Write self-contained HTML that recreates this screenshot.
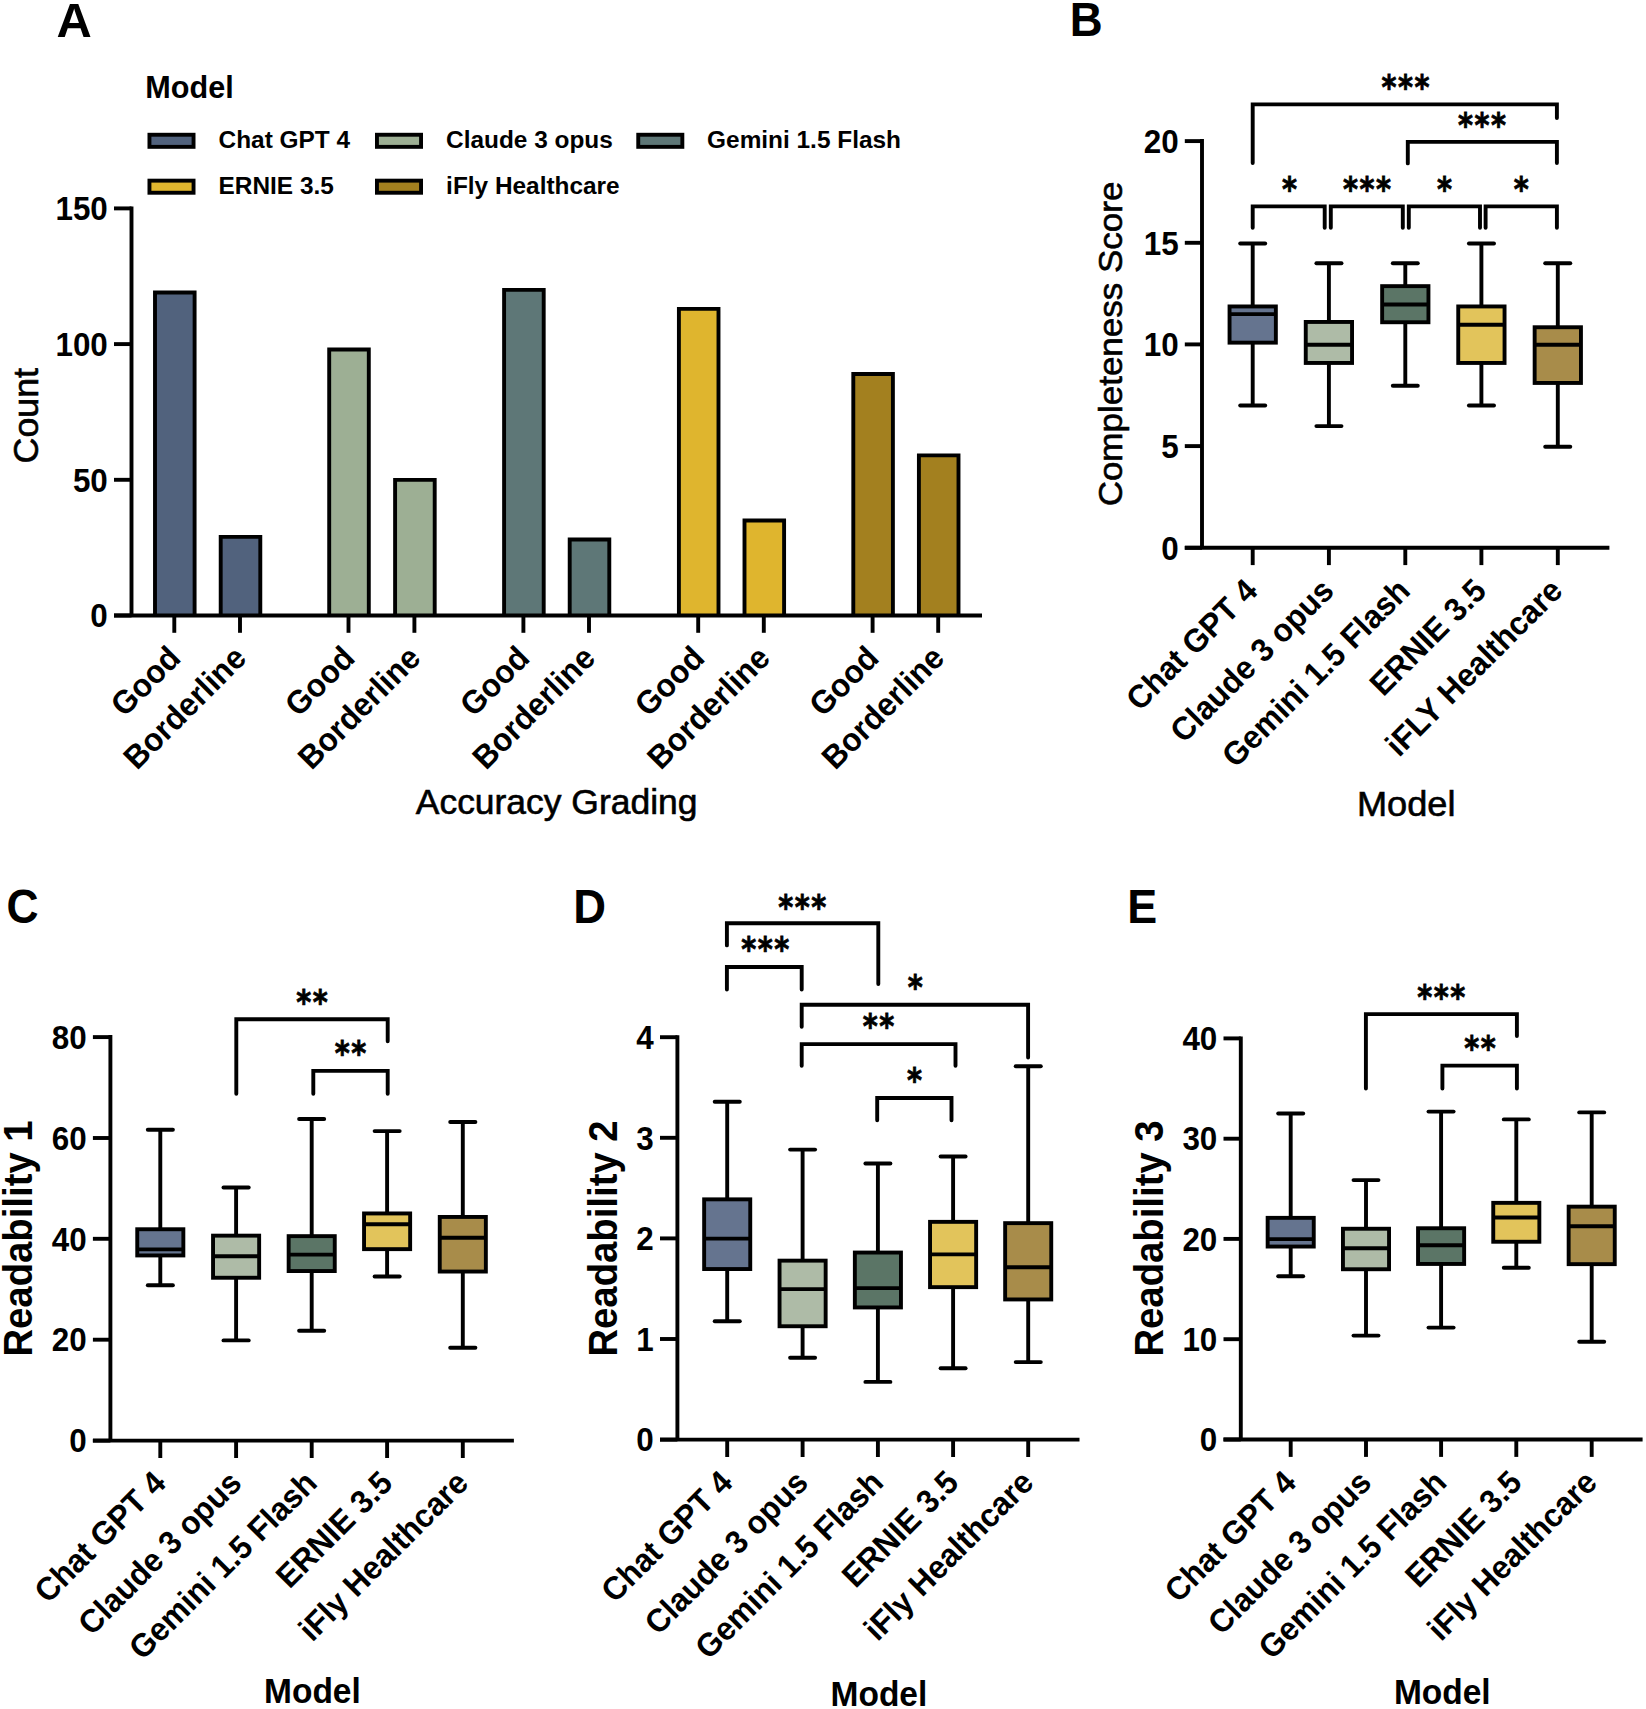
<!DOCTYPE html>
<html lang="en">
<head>
<meta charset="utf-8">
<title>Figure</title>
<style>html,body{margin:0;padding:0;background:#fff}svg{display:block}</style>
</head>
<body>
<svg width="1646" height="1709" viewBox="0 0 1646 1709" font-family='"Liberation Sans", sans-serif' fill="#000">
<rect width="1646" height="1709" fill="#fff"/>
<text transform="translate(56.40 37.00) scale(1.0180 1)" font-size="48.00" font-weight="bold" text-anchor="start">A</text>
<text transform="translate(1069.80 35.70) scale(0.9400 1)" font-size="48.50" font-weight="bold" text-anchor="start">B</text>
<text transform="translate(6.40 923.30) scale(0.9100 1)" font-size="48.80" font-weight="bold" text-anchor="start">C</text>
<text transform="translate(573.30 923.00) scale(0.9450 1)" font-size="48.00" font-weight="bold" text-anchor="start">D</text>
<text transform="translate(1127.30 923.00) scale(0.9350 1)" font-size="48.00" font-weight="bold" text-anchor="start">E</text>
<g id="panelA">
<text transform="translate(145.30 97.60) scale(1.0000 1)" font-size="30.60" font-weight="bold" text-anchor="start">Model</text>
<rect x="149.45" y="134.75" width="44.10" height="12.10" fill="#51627D" stroke="#000" stroke-width="3.9"/>
<text transform="translate(218.60 148.40) scale(1.0000 1)" font-size="24.40" font-weight="bold" text-anchor="start">Chat GPT 4</text>
<rect x="376.95" y="134.75" width="44.10" height="12.10" fill="#9DAF94" stroke="#000" stroke-width="3.9"/>
<text transform="translate(446.10 148.40) scale(1.0000 1)" font-size="24.40" font-weight="bold" text-anchor="start">Claude 3 opus</text>
<rect x="638.25" y="134.75" width="44.10" height="12.10" fill="#5E7777" stroke="#000" stroke-width="3.9"/>
<text transform="translate(707.10 148.40) scale(1.0000 1)" font-size="24.40" font-weight="bold" text-anchor="start">Gemini 1.5 Flash</text>
<rect x="149.45" y="180.65" width="44.10" height="12.10" fill="#DFB52E" stroke="#000" stroke-width="3.9"/>
<text transform="translate(218.60 194.30) scale(1.0000 1)" font-size="24.40" font-weight="bold" text-anchor="start">ERNIE 3.5</text>
<rect x="376.95" y="180.65" width="44.10" height="12.10" fill="#A3801F" stroke="#000" stroke-width="3.9"/>
<text transform="translate(446.10 194.30) scale(1.0000 1)" font-size="24.40" font-weight="bold" text-anchor="start">iFly Healthcare</text>
<rect x="155.00" y="292.57" width="39.60" height="322.93" fill="#51627D"/>
<path d="M155.00 615.50 L155.00 292.57 L194.60 292.57 L194.60 615.50" fill="none" stroke="#000" stroke-width="3.9" stroke-linejoin="miter"/>
<rect x="220.70" y="536.83" width="39.60" height="78.67" fill="#51627D"/>
<path d="M220.70 615.50 L220.70 536.83 L260.30 536.83 L260.30 615.50" fill="none" stroke="#000" stroke-width="3.9" stroke-linejoin="miter"/>
<rect x="329.20" y="349.56" width="39.60" height="265.94" fill="#9DAF94"/>
<path d="M329.20 615.50 L329.20 349.56 L368.80 349.56 L368.80 615.50" fill="none" stroke="#000" stroke-width="3.9" stroke-linejoin="miter"/>
<rect x="395.10" y="479.84" width="39.60" height="135.66" fill="#9DAF94"/>
<path d="M395.10 615.50 L395.10 479.84 L434.70 479.84 L434.70 615.50" fill="none" stroke="#000" stroke-width="3.9" stroke-linejoin="miter"/>
<rect x="504.10" y="289.86" width="39.60" height="325.64" fill="#5E7777"/>
<path d="M504.10 615.50 L504.10 289.86 L543.70 289.86 L543.70 615.50" fill="none" stroke="#000" stroke-width="3.9" stroke-linejoin="miter"/>
<rect x="569.70" y="539.54" width="39.60" height="75.96" fill="#5E7777"/>
<path d="M569.70 615.50 L569.70 539.54 L609.30 539.54 L609.30 615.50" fill="none" stroke="#000" stroke-width="3.9" stroke-linejoin="miter"/>
<rect x="678.90" y="308.85" width="39.60" height="306.65" fill="#DFB52E"/>
<path d="M678.90 615.50 L678.90 308.85 L718.50 308.85 L718.50 615.50" fill="none" stroke="#000" stroke-width="3.9" stroke-linejoin="miter"/>
<rect x="744.50" y="520.55" width="39.60" height="94.95" fill="#DFB52E"/>
<path d="M744.50 615.50 L744.50 520.55 L784.10 520.55 L784.10 615.50" fill="none" stroke="#000" stroke-width="3.9" stroke-linejoin="miter"/>
<rect x="853.30" y="373.99" width="39.60" height="241.51" fill="#A3801F"/>
<path d="M853.30 615.50 L853.30 373.99 L892.90 373.99 L892.90 615.50" fill="none" stroke="#000" stroke-width="3.9" stroke-linejoin="miter"/>
<rect x="918.90" y="455.41" width="39.60" height="160.09" fill="#A3801F"/>
<path d="M918.90 615.50 L918.90 455.41 L958.50 455.41 L958.50 615.50" fill="none" stroke="#000" stroke-width="3.9" stroke-linejoin="miter"/>
<line x1="131.5" y1="206.4" x2="131.5" y2="615.5" stroke="#000" stroke-width="3.9" stroke-linecap="butt"/>
<line x1="114.0" y1="615.5" x2="982.0" y2="615.5" stroke="#000" stroke-width="3.9" stroke-linecap="butt"/>
<line x1="114.0" y1="615.5" x2="131.5" y2="615.5" stroke="#000" stroke-width="3.9" stroke-linecap="butt"/>
<text transform="translate(107.80 627.24) scale(0.9615 1)" font-size="32.66" font-weight="bold" text-anchor="end">0</text>
<line x1="114.0" y1="479.8" x2="131.5" y2="479.8" stroke="#000" stroke-width="3.9" stroke-linecap="butt"/>
<text transform="translate(107.80 491.54) scale(0.9615 1)" font-size="32.66" font-weight="bold" text-anchor="end">50</text>
<line x1="114.0" y1="344.1" x2="131.5" y2="344.1" stroke="#000" stroke-width="3.9" stroke-linecap="butt"/>
<text transform="translate(107.80 355.84) scale(0.9615 1)" font-size="32.66" font-weight="bold" text-anchor="end">100</text>
<line x1="114.0" y1="208.4" x2="131.5" y2="208.4" stroke="#000" stroke-width="3.9" stroke-linecap="butt"/>
<text transform="translate(107.80 220.14) scale(0.9615 1)" font-size="32.66" font-weight="bold" text-anchor="end">150</text>
<line x1="174.3" y1="615.5" x2="174.3" y2="632.8" stroke="#000" stroke-width="3.9" stroke-linecap="butt"/>
<line x1="240.0" y1="615.5" x2="240.0" y2="632.8" stroke="#000" stroke-width="3.9" stroke-linecap="butt"/>
<line x1="348.5" y1="615.5" x2="348.5" y2="632.8" stroke="#000" stroke-width="3.9" stroke-linecap="butt"/>
<line x1="414.4" y1="615.5" x2="414.4" y2="632.8" stroke="#000" stroke-width="3.9" stroke-linecap="butt"/>
<line x1="523.4" y1="615.5" x2="523.4" y2="632.8" stroke="#000" stroke-width="3.9" stroke-linecap="butt"/>
<line x1="589.0" y1="615.5" x2="589.0" y2="632.8" stroke="#000" stroke-width="3.9" stroke-linecap="butt"/>
<line x1="698.2" y1="615.5" x2="698.2" y2="632.8" stroke="#000" stroke-width="3.9" stroke-linecap="butt"/>
<line x1="763.8" y1="615.5" x2="763.8" y2="632.8" stroke="#000" stroke-width="3.9" stroke-linecap="butt"/>
<line x1="872.6" y1="615.5" x2="872.6" y2="632.8" stroke="#000" stroke-width="3.9" stroke-linecap="butt"/>
<line x1="938.2" y1="615.5" x2="938.2" y2="632.8" stroke="#000" stroke-width="3.9" stroke-linecap="butt"/>
<text transform="translate(182.30 660.00) rotate(-45) scale(0.9615 1)" font-size="32.66" font-weight="bold" text-anchor="end">Good</text>
<text transform="translate(248.00 660.00) rotate(-45) scale(0.9615 1)" font-size="32.66" font-weight="bold" text-anchor="end">Borderline</text>
<text transform="translate(356.50 660.00) rotate(-45) scale(0.9615 1)" font-size="32.66" font-weight="bold" text-anchor="end">Good</text>
<text transform="translate(422.40 660.00) rotate(-45) scale(0.9615 1)" font-size="32.66" font-weight="bold" text-anchor="end">Borderline</text>
<text transform="translate(531.40 660.00) rotate(-45) scale(0.9615 1)" font-size="32.66" font-weight="bold" text-anchor="end">Good</text>
<text transform="translate(597.00 660.00) rotate(-45) scale(0.9615 1)" font-size="32.66" font-weight="bold" text-anchor="end">Borderline</text>
<text transform="translate(706.20 660.00) rotate(-45) scale(0.9615 1)" font-size="32.66" font-weight="bold" text-anchor="end">Good</text>
<text transform="translate(771.80 660.00) rotate(-45) scale(0.9615 1)" font-size="32.66" font-weight="bold" text-anchor="end">Borderline</text>
<text transform="translate(880.60 660.00) rotate(-45) scale(0.9615 1)" font-size="32.66" font-weight="bold" text-anchor="end">Good</text>
<text transform="translate(946.20 660.00) rotate(-45) scale(0.9615 1)" font-size="32.66" font-weight="bold" text-anchor="end">Borderline</text>
<text transform="translate(37.90 415.70) rotate(-90) scale(1.0256 1)" font-size="34.90" font-weight="normal" text-anchor="middle" stroke="#000" stroke-width="0.6">Count</text>
<text transform="translate(556.60 813.60) scale(1.0256 1)" font-size="34.56" font-weight="normal" text-anchor="middle" stroke="#000" stroke-width="0.6">Accuracy Grading</text>
</g>
<g id="panelB">
<line x1="1202.0" y1="139.1" x2="1202.0" y2="547.8" stroke="#000" stroke-width="3.9" stroke-linecap="butt"/>
<line x1="1184.8" y1="547.8" x2="1609.4" y2="547.8" stroke="#000" stroke-width="3.9" stroke-linecap="butt"/>
<line x1="1184.8" y1="547.8" x2="1202.0" y2="547.8" stroke="#000" stroke-width="3.9" stroke-linecap="butt"/>
<text transform="translate(1178.60 559.54) scale(0.9615 1)" font-size="32.66" font-weight="bold" text-anchor="end">0</text>
<line x1="1184.8" y1="446.1" x2="1202.0" y2="446.1" stroke="#000" stroke-width="3.9" stroke-linecap="butt"/>
<text transform="translate(1178.60 457.87) scale(0.9615 1)" font-size="32.66" font-weight="bold" text-anchor="end">5</text>
<line x1="1184.8" y1="344.4" x2="1202.0" y2="344.4" stroke="#000" stroke-width="3.9" stroke-linecap="butt"/>
<text transform="translate(1178.60 356.19) scale(0.9615 1)" font-size="32.66" font-weight="bold" text-anchor="end">10</text>
<line x1="1184.8" y1="242.8" x2="1202.0" y2="242.8" stroke="#000" stroke-width="3.9" stroke-linecap="butt"/>
<text transform="translate(1178.60 254.52) scale(0.9615 1)" font-size="32.66" font-weight="bold" text-anchor="end">15</text>
<line x1="1184.8" y1="141.1" x2="1202.0" y2="141.1" stroke="#000" stroke-width="3.9" stroke-linecap="butt"/>
<text transform="translate(1178.60 152.84) scale(0.9615 1)" font-size="32.66" font-weight="bold" text-anchor="end">20</text>
<line x1="1252.7" y1="547.8" x2="1252.7" y2="565.1" stroke="#000" stroke-width="3.9" stroke-linecap="butt"/>
<line x1="1328.9" y1="547.8" x2="1328.9" y2="565.1" stroke="#000" stroke-width="3.9" stroke-linecap="butt"/>
<line x1="1405.3" y1="547.8" x2="1405.3" y2="565.1" stroke="#000" stroke-width="3.9" stroke-linecap="butt"/>
<line x1="1481.4" y1="547.8" x2="1481.4" y2="565.1" stroke="#000" stroke-width="3.9" stroke-linecap="butt"/>
<line x1="1557.8" y1="547.8" x2="1557.8" y2="565.1" stroke="#000" stroke-width="3.9" stroke-linecap="butt"/>
<line x1="1252.7" y1="243.5" x2="1252.7" y2="305.5" stroke="#000" stroke-width="3.9" stroke-linecap="butt"/>
<line x1="1252.7" y1="343.6" x2="1252.7" y2="405.5" stroke="#000" stroke-width="3.9" stroke-linecap="butt"/>
<line x1="1240.2" y1="243.5" x2="1265.2" y2="243.5" stroke="#000" stroke-width="3.9" stroke-linecap="round"/>
<line x1="1240.2" y1="405.5" x2="1265.2" y2="405.5" stroke="#000" stroke-width="3.9" stroke-linecap="round"/>
<rect x="1229.55" y="306.45" width="46.30" height="36.20" fill="#65748F" stroke="#000" stroke-width="3.9"/>
<line x1="1228.6" y1="314.1" x2="1276.8" y2="314.1" stroke="#000" stroke-width="3.9" stroke-linecap="butt"/>
<line x1="1328.9" y1="263.3" x2="1328.9" y2="321.0" stroke="#000" stroke-width="3.9" stroke-linecap="butt"/>
<line x1="1328.9" y1="363.9" x2="1328.9" y2="426.1" stroke="#000" stroke-width="3.9" stroke-linecap="butt"/>
<line x1="1316.4" y1="263.3" x2="1341.5" y2="263.3" stroke="#000" stroke-width="3.9" stroke-linecap="round"/>
<line x1="1316.4" y1="426.1" x2="1341.5" y2="426.1" stroke="#000" stroke-width="3.9" stroke-linecap="round"/>
<rect x="1305.75" y="321.95" width="46.30" height="41.00" fill="#AEBBA7" stroke="#000" stroke-width="3.9"/>
<line x1="1304.8" y1="344.8" x2="1353.0" y2="344.8" stroke="#000" stroke-width="3.9" stroke-linecap="butt"/>
<line x1="1405.3" y1="263.3" x2="1405.3" y2="285.2" stroke="#000" stroke-width="3.9" stroke-linecap="butt"/>
<line x1="1405.3" y1="323.2" x2="1405.3" y2="385.7" stroke="#000" stroke-width="3.9" stroke-linecap="butt"/>
<line x1="1392.8" y1="263.3" x2="1417.8" y2="263.3" stroke="#000" stroke-width="3.9" stroke-linecap="round"/>
<line x1="1392.8" y1="385.7" x2="1417.8" y2="385.7" stroke="#000" stroke-width="3.9" stroke-linecap="round"/>
<rect x="1382.15" y="286.15" width="46.30" height="36.10" fill="#5B7566" stroke="#000" stroke-width="3.9"/>
<line x1="1381.2" y1="304.5" x2="1429.4" y2="304.5" stroke="#000" stroke-width="3.9" stroke-linecap="butt"/>
<line x1="1481.4" y1="243.5" x2="1481.4" y2="305.5" stroke="#000" stroke-width="3.9" stroke-linecap="butt"/>
<line x1="1481.4" y1="363.9" x2="1481.4" y2="405.5" stroke="#000" stroke-width="3.9" stroke-linecap="butt"/>
<line x1="1468.9" y1="243.5" x2="1494.0" y2="243.5" stroke="#000" stroke-width="3.9" stroke-linecap="round"/>
<line x1="1468.9" y1="405.5" x2="1494.0" y2="405.5" stroke="#000" stroke-width="3.9" stroke-linecap="round"/>
<rect x="1458.25" y="306.45" width="46.30" height="56.50" fill="#E2C45B" stroke="#000" stroke-width="3.9"/>
<line x1="1457.3" y1="324.8" x2="1505.5" y2="324.8" stroke="#000" stroke-width="3.9" stroke-linecap="butt"/>
<line x1="1557.8" y1="263.3" x2="1557.8" y2="326.3" stroke="#000" stroke-width="3.9" stroke-linecap="butt"/>
<line x1="1557.8" y1="383.9" x2="1557.8" y2="446.7" stroke="#000" stroke-width="3.9" stroke-linecap="butt"/>
<line x1="1545.2" y1="263.3" x2="1570.3" y2="263.3" stroke="#000" stroke-width="3.9" stroke-linecap="round"/>
<line x1="1545.2" y1="446.7" x2="1570.3" y2="446.7" stroke="#000" stroke-width="3.9" stroke-linecap="round"/>
<rect x="1534.65" y="327.25" width="46.30" height="55.70" fill="#A88C4A" stroke="#000" stroke-width="3.9"/>
<line x1="1533.7" y1="344.8" x2="1581.9" y2="344.8" stroke="#000" stroke-width="3.9" stroke-linecap="butt"/>
<path d="M1252.7 163.0 L1252.7 104.4 L1556.9 104.4 L1556.9 118.1" fill="none" stroke="#000" stroke-width="3.9" stroke-linecap="round" stroke-linejoin="miter"/>
<path d="M1407.8 163.4 L1407.8 141.9 L1556.9 141.9 L1556.9 163.0" fill="none" stroke="#000" stroke-width="3.9" stroke-linecap="round" stroke-linejoin="miter"/>
<path d="M1252.7 227.8 L1252.7 206.4 L1324.7 206.4 L1324.7 227.8" fill="none" stroke="#000" stroke-width="3.9" stroke-linecap="round" stroke-linejoin="miter"/>
<path d="M1330.8 227.8 L1330.8 206.4 L1402.8 206.4 L1402.8 227.8" fill="none" stroke="#000" stroke-width="3.9" stroke-linecap="round" stroke-linejoin="miter"/>
<path d="M1408.8 227.8 L1408.8 206.4 L1480.0 206.4 L1480.0 227.8" fill="none" stroke="#000" stroke-width="3.9" stroke-linecap="round" stroke-linejoin="miter"/>
<path d="M1485.6 227.8 L1485.6 206.4 L1556.9 206.4 L1556.9 227.8" fill="none" stroke="#000" stroke-width="3.9" stroke-linecap="round" stroke-linejoin="miter"/>
<text transform="translate(1406.15 99.03) scale(0.87 1)" font-family="DejaVu Sans, Liberation Sans, sans-serif" font-size="33" font-weight="bold" text-anchor="middle" letter-spacing="1.72" stroke="#000" stroke-width="0.8" stroke-linejoin="miter">***</text>
<text transform="translate(1482.65 136.83) scale(0.87 1)" font-family="DejaVu Sans, Liberation Sans, sans-serif" font-size="33" font-weight="bold" text-anchor="middle" letter-spacing="1.72" stroke="#000" stroke-width="0.8" stroke-linejoin="miter">***</text>
<text transform="translate(1290.25 200.63) scale(0.87 1)" font-family="DejaVu Sans, Liberation Sans, sans-serif" font-size="33" font-weight="bold" text-anchor="middle" letter-spacing="1.72" stroke="#000" stroke-width="0.8" stroke-linejoin="miter">*</text>
<text transform="translate(1367.75 200.63) scale(0.87 1)" font-family="DejaVu Sans, Liberation Sans, sans-serif" font-size="33" font-weight="bold" text-anchor="middle" letter-spacing="1.72" stroke="#000" stroke-width="0.8" stroke-linejoin="miter">***</text>
<text transform="translate(1445.25 200.63) scale(0.87 1)" font-family="DejaVu Sans, Liberation Sans, sans-serif" font-size="33" font-weight="bold" text-anchor="middle" letter-spacing="1.72" stroke="#000" stroke-width="0.8" stroke-linejoin="miter">*</text>
<text transform="translate(1522.05 200.63) scale(0.87 1)" font-family="DejaVu Sans, Liberation Sans, sans-serif" font-size="33" font-weight="bold" text-anchor="middle" letter-spacing="1.72" stroke="#000" stroke-width="0.8" stroke-linejoin="miter">*</text>
<text transform="translate(1259.30 592.60) rotate(-45) scale(0.9615 1)" font-size="32.66" font-weight="bold" text-anchor="end">Chat GPT 4</text>
<text transform="translate(1335.50 592.60) rotate(-45) scale(0.9615 1)" font-size="32.66" font-weight="bold" text-anchor="end">Claude 3 opus</text>
<text transform="translate(1411.90 592.60) rotate(-45) scale(0.9615 1)" font-size="32.66" font-weight="bold" text-anchor="end">Gemini 1.5 Flash</text>
<text transform="translate(1488.00 592.60) rotate(-45) scale(0.9615 1)" font-size="32.66" font-weight="bold" text-anchor="end">ERNIE 3.5</text>
<text transform="translate(1564.40 592.60) rotate(-45) scale(0.9615 1)" font-size="32.66" font-weight="bold" text-anchor="end">iFLY Healthcare</text>
<text transform="translate(1121.60 344.00) rotate(-90) scale(1.0256 1)" font-size="34.12" font-weight="normal" text-anchor="middle" stroke="#000" stroke-width="0.6">Completeness Score</text>
<text transform="translate(1406.20 815.70) scale(1.0256 1)" font-size="35.30" font-weight="normal" text-anchor="middle" stroke="#000" stroke-width="0.6">Model</text>
</g>
<g id="panelC">
<line x1="110.4" y1="1035.1" x2="110.4" y2="1440.6" stroke="#000" stroke-width="3.9" stroke-linecap="butt"/>
<line x1="92.9" y1="1440.6" x2="513.9" y2="1440.6" stroke="#000" stroke-width="3.9" stroke-linecap="butt"/>
<line x1="92.9" y1="1440.6" x2="110.4" y2="1440.6" stroke="#000" stroke-width="3.9" stroke-linecap="butt"/>
<text transform="translate(86.70 1452.34) scale(0.9615 1)" font-size="32.66" font-weight="bold" text-anchor="end">0</text>
<line x1="92.9" y1="1339.7" x2="110.4" y2="1339.7" stroke="#000" stroke-width="3.9" stroke-linecap="butt"/>
<text transform="translate(86.70 1351.47) scale(0.9615 1)" font-size="32.66" font-weight="bold" text-anchor="end">20</text>
<line x1="92.9" y1="1238.8" x2="110.4" y2="1238.8" stroke="#000" stroke-width="3.9" stroke-linecap="butt"/>
<text transform="translate(86.70 1250.59) scale(0.9615 1)" font-size="32.66" font-weight="bold" text-anchor="end">40</text>
<line x1="92.9" y1="1138.0" x2="110.4" y2="1138.0" stroke="#000" stroke-width="3.9" stroke-linecap="butt"/>
<text transform="translate(86.70 1149.72) scale(0.9615 1)" font-size="32.66" font-weight="bold" text-anchor="end">60</text>
<line x1="92.9" y1="1037.1" x2="110.4" y2="1037.1" stroke="#000" stroke-width="3.9" stroke-linecap="butt"/>
<text transform="translate(86.70 1048.84) scale(0.9615 1)" font-size="32.66" font-weight="bold" text-anchor="end">80</text>
<line x1="160.3" y1="1440.6" x2="160.3" y2="1458.0" stroke="#000" stroke-width="3.9" stroke-linecap="butt"/>
<line x1="236.1" y1="1440.6" x2="236.1" y2="1458.0" stroke="#000" stroke-width="3.9" stroke-linecap="butt"/>
<line x1="311.7" y1="1440.6" x2="311.7" y2="1458.0" stroke="#000" stroke-width="3.9" stroke-linecap="butt"/>
<line x1="387.1" y1="1440.6" x2="387.1" y2="1458.0" stroke="#000" stroke-width="3.9" stroke-linecap="butt"/>
<line x1="462.8" y1="1440.6" x2="462.8" y2="1458.0" stroke="#000" stroke-width="3.9" stroke-linecap="butt"/>
<line x1="160.3" y1="1129.7" x2="160.3" y2="1228.3" stroke="#000" stroke-width="3.9" stroke-linecap="butt"/>
<line x1="160.3" y1="1256.4" x2="160.3" y2="1285.3" stroke="#000" stroke-width="3.9" stroke-linecap="butt"/>
<line x1="147.8" y1="1129.7" x2="172.9" y2="1129.7" stroke="#000" stroke-width="3.9" stroke-linecap="round"/>
<line x1="147.8" y1="1285.3" x2="172.9" y2="1285.3" stroke="#000" stroke-width="3.9" stroke-linecap="round"/>
<rect x="137.25" y="1229.25" width="46.10" height="26.20" fill="#65748F" stroke="#000" stroke-width="3.9"/>
<line x1="136.3" y1="1249.4" x2="184.3" y2="1249.4" stroke="#000" stroke-width="3.9" stroke-linecap="butt"/>
<line x1="236.1" y1="1187.5" x2="236.1" y2="1234.7" stroke="#000" stroke-width="3.9" stroke-linecap="butt"/>
<line x1="236.1" y1="1278.7" x2="236.1" y2="1340.4" stroke="#000" stroke-width="3.9" stroke-linecap="butt"/>
<line x1="223.5" y1="1187.5" x2="248.7" y2="1187.5" stroke="#000" stroke-width="3.9" stroke-linecap="round"/>
<line x1="223.5" y1="1340.4" x2="248.7" y2="1340.4" stroke="#000" stroke-width="3.9" stroke-linecap="round"/>
<rect x="213.05" y="1235.65" width="46.10" height="42.10" fill="#AEBBA7" stroke="#000" stroke-width="3.9"/>
<line x1="212.1" y1="1256.2" x2="260.1" y2="1256.2" stroke="#000" stroke-width="3.9" stroke-linecap="butt"/>
<line x1="311.7" y1="1119.0" x2="311.7" y2="1235.2" stroke="#000" stroke-width="3.9" stroke-linecap="butt"/>
<line x1="311.7" y1="1272.0" x2="311.7" y2="1330.7" stroke="#000" stroke-width="3.9" stroke-linecap="butt"/>
<line x1="299.1" y1="1119.0" x2="324.2" y2="1119.0" stroke="#000" stroke-width="3.9" stroke-linecap="round"/>
<line x1="299.1" y1="1330.7" x2="324.2" y2="1330.7" stroke="#000" stroke-width="3.9" stroke-linecap="round"/>
<rect x="288.65" y="1236.15" width="46.10" height="34.90" fill="#5B7566" stroke="#000" stroke-width="3.9"/>
<line x1="287.7" y1="1254.6" x2="335.7" y2="1254.6" stroke="#000" stroke-width="3.9" stroke-linecap="butt"/>
<line x1="387.1" y1="1131.1" x2="387.1" y2="1212.5" stroke="#000" stroke-width="3.9" stroke-linecap="butt"/>
<line x1="387.1" y1="1250.1" x2="387.1" y2="1276.5" stroke="#000" stroke-width="3.9" stroke-linecap="butt"/>
<line x1="374.6" y1="1131.1" x2="399.7" y2="1131.1" stroke="#000" stroke-width="3.9" stroke-linecap="round"/>
<line x1="374.6" y1="1276.5" x2="399.7" y2="1276.5" stroke="#000" stroke-width="3.9" stroke-linecap="round"/>
<rect x="364.05" y="1213.45" width="46.10" height="35.70" fill="#E2C45B" stroke="#000" stroke-width="3.9"/>
<line x1="363.1" y1="1224.3" x2="411.1" y2="1224.3" stroke="#000" stroke-width="3.9" stroke-linecap="butt"/>
<line x1="462.8" y1="1122.0" x2="462.8" y2="1216.0" stroke="#000" stroke-width="3.9" stroke-linecap="butt"/>
<line x1="462.8" y1="1272.5" x2="462.8" y2="1347.8" stroke="#000" stroke-width="3.9" stroke-linecap="butt"/>
<line x1="450.2" y1="1122.0" x2="475.4" y2="1122.0" stroke="#000" stroke-width="3.9" stroke-linecap="round"/>
<line x1="450.2" y1="1347.8" x2="475.4" y2="1347.8" stroke="#000" stroke-width="3.9" stroke-linecap="round"/>
<rect x="439.75" y="1216.95" width="46.10" height="54.60" fill="#A88C4A" stroke="#000" stroke-width="3.9"/>
<line x1="438.8" y1="1237.7" x2="486.8" y2="1237.7" stroke="#000" stroke-width="3.9" stroke-linecap="butt"/>
<text transform="translate(167.50 1485.00) rotate(-45) scale(0.9615 1)" font-size="32.66" font-weight="bold" text-anchor="end">Chat GPT 4</text>
<text transform="translate(243.30 1485.00) rotate(-45) scale(0.9615 1)" font-size="32.66" font-weight="bold" text-anchor="end">Claude 3 opus</text>
<text transform="translate(318.90 1485.00) rotate(-45) scale(0.9615 1)" font-size="32.66" font-weight="bold" text-anchor="end">Gemini 1.5 Flash</text>
<text transform="translate(394.30 1485.00) rotate(-45) scale(0.9615 1)" font-size="32.66" font-weight="bold" text-anchor="end">ERNIE 3.5</text>
<text transform="translate(470.00 1485.00) rotate(-45) scale(0.9615 1)" font-size="32.66" font-weight="bold" text-anchor="end">iFly Healthcare</text>
<text transform="translate(32.00 1238.50) rotate(-90) scale(0.9479 1)" font-size="40.41" font-weight="bold" text-anchor="middle">Readability 1</text>
<text transform="translate(312.40 1703.40) scale(0.9615 1)" font-size="34.84" font-weight="bold" text-anchor="middle">Model</text>
</g>
<path d="M236.3 1093.8 L236.3 1019.3 L387.7 1019.3 L387.7 1041.3" fill="none" stroke="#000" stroke-width="3.9" stroke-linecap="round" stroke-linejoin="miter"/>
<path d="M313.3 1093.8 L313.3 1070.9 L387.7 1070.9 L387.7 1093.8" fill="none" stroke="#000" stroke-width="3.9" stroke-linecap="round" stroke-linejoin="miter"/>
<text transform="translate(312.85 1013.53) scale(0.87 1)" font-family="DejaVu Sans, Liberation Sans, sans-serif" font-size="33" font-weight="bold" text-anchor="middle" letter-spacing="1.72" stroke="#000" stroke-width="0.8" stroke-linejoin="miter">**</text>
<text transform="translate(351.35 1065.33) scale(0.87 1)" font-family="DejaVu Sans, Liberation Sans, sans-serif" font-size="33" font-weight="bold" text-anchor="middle" letter-spacing="1.72" stroke="#000" stroke-width="0.8" stroke-linejoin="miter">**</text>
<g id="panelD">
<line x1="677.4" y1="1035.2" x2="677.4" y2="1439.6" stroke="#000" stroke-width="3.9" stroke-linecap="butt"/>
<line x1="660.0" y1="1439.6" x2="1079.5" y2="1439.6" stroke="#000" stroke-width="3.9" stroke-linecap="butt"/>
<line x1="660.0" y1="1439.6" x2="677.4" y2="1439.6" stroke="#000" stroke-width="3.9" stroke-linecap="butt"/>
<text transform="translate(653.80 1451.34) scale(0.9615 1)" font-size="32.66" font-weight="bold" text-anchor="end">0</text>
<line x1="660.0" y1="1339.0" x2="677.4" y2="1339.0" stroke="#000" stroke-width="3.9" stroke-linecap="butt"/>
<text transform="translate(653.80 1350.74) scale(0.9615 1)" font-size="32.66" font-weight="bold" text-anchor="end">1</text>
<line x1="660.0" y1="1238.4" x2="677.4" y2="1238.4" stroke="#000" stroke-width="3.9" stroke-linecap="butt"/>
<text transform="translate(653.80 1250.14) scale(0.9615 1)" font-size="32.66" font-weight="bold" text-anchor="end">2</text>
<line x1="660.0" y1="1137.8" x2="677.4" y2="1137.8" stroke="#000" stroke-width="3.9" stroke-linecap="butt"/>
<text transform="translate(653.80 1149.54) scale(0.9615 1)" font-size="32.66" font-weight="bold" text-anchor="end">3</text>
<line x1="660.0" y1="1037.2" x2="677.4" y2="1037.2" stroke="#000" stroke-width="3.9" stroke-linecap="butt"/>
<text transform="translate(653.80 1048.94) scale(0.9615 1)" font-size="32.66" font-weight="bold" text-anchor="end">4</text>
<line x1="727.2" y1="1439.6" x2="727.2" y2="1457.0" stroke="#000" stroke-width="3.9" stroke-linecap="butt"/>
<line x1="802.6" y1="1439.6" x2="802.6" y2="1457.0" stroke="#000" stroke-width="3.9" stroke-linecap="butt"/>
<line x1="877.9" y1="1439.6" x2="877.9" y2="1457.0" stroke="#000" stroke-width="3.9" stroke-linecap="butt"/>
<line x1="953.1" y1="1439.6" x2="953.1" y2="1457.0" stroke="#000" stroke-width="3.9" stroke-linecap="butt"/>
<line x1="1028.2" y1="1439.6" x2="1028.2" y2="1457.0" stroke="#000" stroke-width="3.9" stroke-linecap="butt"/>
<line x1="727.2" y1="1101.7" x2="727.2" y2="1198.4" stroke="#000" stroke-width="3.9" stroke-linecap="butt"/>
<line x1="727.2" y1="1270.0" x2="727.2" y2="1321.2" stroke="#000" stroke-width="3.9" stroke-linecap="butt"/>
<line x1="714.7" y1="1101.7" x2="739.8" y2="1101.7" stroke="#000" stroke-width="3.9" stroke-linecap="round"/>
<line x1="714.7" y1="1321.2" x2="739.8" y2="1321.2" stroke="#000" stroke-width="3.9" stroke-linecap="round"/>
<rect x="704.15" y="1199.35" width="46.10" height="69.70" fill="#65748F" stroke="#000" stroke-width="3.9"/>
<line x1="703.2" y1="1238.6" x2="751.2" y2="1238.6" stroke="#000" stroke-width="3.9" stroke-linecap="butt"/>
<line x1="802.6" y1="1149.6" x2="802.6" y2="1259.7" stroke="#000" stroke-width="3.9" stroke-linecap="butt"/>
<line x1="802.6" y1="1327.2" x2="802.6" y2="1357.8" stroke="#000" stroke-width="3.9" stroke-linecap="butt"/>
<line x1="790.1" y1="1149.6" x2="815.1" y2="1149.6" stroke="#000" stroke-width="3.9" stroke-linecap="round"/>
<line x1="790.1" y1="1357.8" x2="815.1" y2="1357.8" stroke="#000" stroke-width="3.9" stroke-linecap="round"/>
<rect x="779.55" y="1260.65" width="46.10" height="65.60" fill="#AEBBA7" stroke="#000" stroke-width="3.9"/>
<line x1="778.6" y1="1289.1" x2="826.6" y2="1289.1" stroke="#000" stroke-width="3.9" stroke-linecap="butt"/>
<line x1="877.9" y1="1163.5" x2="877.9" y2="1251.6" stroke="#000" stroke-width="3.9" stroke-linecap="butt"/>
<line x1="877.9" y1="1308.4" x2="877.9" y2="1381.9" stroke="#000" stroke-width="3.9" stroke-linecap="butt"/>
<line x1="865.4" y1="1163.5" x2="890.4" y2="1163.5" stroke="#000" stroke-width="3.9" stroke-linecap="round"/>
<line x1="865.4" y1="1381.9" x2="890.4" y2="1381.9" stroke="#000" stroke-width="3.9" stroke-linecap="round"/>
<rect x="854.85" y="1252.55" width="46.10" height="54.90" fill="#5B7566" stroke="#000" stroke-width="3.9"/>
<line x1="853.9" y1="1288.1" x2="901.9" y2="1288.1" stroke="#000" stroke-width="3.9" stroke-linecap="butt"/>
<line x1="953.1" y1="1156.5" x2="953.1" y2="1220.9" stroke="#000" stroke-width="3.9" stroke-linecap="butt"/>
<line x1="953.1" y1="1288.1" x2="953.1" y2="1368.3" stroke="#000" stroke-width="3.9" stroke-linecap="butt"/>
<line x1="940.6" y1="1156.5" x2="965.6" y2="1156.5" stroke="#000" stroke-width="3.9" stroke-linecap="round"/>
<line x1="940.6" y1="1368.3" x2="965.6" y2="1368.3" stroke="#000" stroke-width="3.9" stroke-linecap="round"/>
<rect x="930.05" y="1221.85" width="46.10" height="65.30" fill="#E2C45B" stroke="#000" stroke-width="3.9"/>
<line x1="929.1" y1="1254.4" x2="977.1" y2="1254.4" stroke="#000" stroke-width="3.9" stroke-linecap="butt"/>
<line x1="1028.2" y1="1066.2" x2="1028.2" y2="1222.2" stroke="#000" stroke-width="3.9" stroke-linecap="butt"/>
<line x1="1028.2" y1="1300.4" x2="1028.2" y2="1362.1" stroke="#000" stroke-width="3.9" stroke-linecap="butt"/>
<line x1="1015.7" y1="1066.2" x2="1040.8" y2="1066.2" stroke="#000" stroke-width="3.9" stroke-linecap="round"/>
<line x1="1015.7" y1="1362.1" x2="1040.8" y2="1362.1" stroke="#000" stroke-width="3.9" stroke-linecap="round"/>
<rect x="1005.15" y="1223.15" width="46.10" height="76.30" fill="#A88C4A" stroke="#000" stroke-width="3.9"/>
<line x1="1004.2" y1="1267.2" x2="1052.2" y2="1267.2" stroke="#000" stroke-width="3.9" stroke-linecap="butt"/>
<text transform="translate(734.40 1484.50) rotate(-45) scale(0.9615 1)" font-size="32.66" font-weight="bold" text-anchor="end">Chat GPT 4</text>
<text transform="translate(809.80 1484.50) rotate(-45) scale(0.9615 1)" font-size="32.66" font-weight="bold" text-anchor="end">Claude 3 opus</text>
<text transform="translate(885.10 1484.50) rotate(-45) scale(0.9615 1)" font-size="32.66" font-weight="bold" text-anchor="end">Gemini 1.5 Flash</text>
<text transform="translate(960.30 1484.50) rotate(-45) scale(0.9615 1)" font-size="32.66" font-weight="bold" text-anchor="end">ERNIE 3.5</text>
<text transform="translate(1035.40 1484.50) rotate(-45) scale(0.9615 1)" font-size="32.66" font-weight="bold" text-anchor="end">iFly Healthcare</text>
<text transform="translate(616.80 1238.50) rotate(-90) scale(0.9479 1)" font-size="40.41" font-weight="bold" text-anchor="middle">Readability 2</text>
<text transform="translate(878.90 1706.10) scale(0.9615 1)" font-size="34.84" font-weight="bold" text-anchor="middle">Model</text>
</g>
<path d="M726.9 945.4 L726.9 923.3 L878.3 923.3 L878.3 984.1" fill="none" stroke="#000" stroke-width="3.9" stroke-linecap="round" stroke-linejoin="miter"/>
<path d="M726.9 989.5 L726.9 967.0 L801.7 967.0 L801.7 989.5" fill="none" stroke="#000" stroke-width="3.9" stroke-linecap="round" stroke-linejoin="miter"/>
<path d="M801.7 1026.8 L801.7 1004.7 L1028.1 1004.7 L1028.1 1057.5" fill="none" stroke="#000" stroke-width="3.9" stroke-linecap="round" stroke-linejoin="miter"/>
<path d="M801.7 1065.8 L801.7 1044.1 L955.5 1044.1 L955.5 1065.8" fill="none" stroke="#000" stroke-width="3.9" stroke-linecap="round" stroke-linejoin="miter"/>
<path d="M877.2 1120.3 L877.2 1098.0 L951.5 1098.0 L951.5 1120.3" fill="none" stroke="#000" stroke-width="3.9" stroke-linecap="round" stroke-linejoin="miter"/>
<text transform="translate(803.05 919.13) scale(0.87 1)" font-family="DejaVu Sans, Liberation Sans, sans-serif" font-size="33" font-weight="bold" text-anchor="middle" letter-spacing="1.72" stroke="#000" stroke-width="0.8" stroke-linejoin="miter">***</text>
<text transform="translate(765.95 960.93) scale(0.87 1)" font-family="DejaVu Sans, Liberation Sans, sans-serif" font-size="33" font-weight="bold" text-anchor="middle" letter-spacing="1.72" stroke="#000" stroke-width="0.8" stroke-linejoin="miter">***</text>
<text transform="translate(915.95 999.33) scale(0.87 1)" font-family="DejaVu Sans, Liberation Sans, sans-serif" font-size="33" font-weight="bold" text-anchor="middle" letter-spacing="1.72" stroke="#000" stroke-width="0.8" stroke-linejoin="miter">*</text>
<text transform="translate(879.15 1038.43) scale(0.87 1)" font-family="DejaVu Sans, Liberation Sans, sans-serif" font-size="33" font-weight="bold" text-anchor="middle" letter-spacing="1.72" stroke="#000" stroke-width="0.8" stroke-linejoin="miter">**</text>
<text transform="translate(915.25 1092.23) scale(0.87 1)" font-family="DejaVu Sans, Liberation Sans, sans-serif" font-size="33" font-weight="bold" text-anchor="middle" letter-spacing="1.72" stroke="#000" stroke-width="0.8" stroke-linejoin="miter">*</text>
<g id="panelE">
<line x1="1240.8" y1="1036.4" x2="1240.8" y2="1439.5" stroke="#000" stroke-width="3.9" stroke-linecap="butt"/>
<line x1="1223.5" y1="1439.5" x2="1642.6" y2="1439.5" stroke="#000" stroke-width="3.9" stroke-linecap="butt"/>
<line x1="1223.5" y1="1439.5" x2="1240.8" y2="1439.5" stroke="#000" stroke-width="3.9" stroke-linecap="butt"/>
<text transform="translate(1217.30 1451.24) scale(0.9615 1)" font-size="32.66" font-weight="bold" text-anchor="end">0</text>
<line x1="1223.5" y1="1339.2" x2="1240.8" y2="1339.2" stroke="#000" stroke-width="3.9" stroke-linecap="butt"/>
<text transform="translate(1217.30 1350.96) scale(0.9615 1)" font-size="32.66" font-weight="bold" text-anchor="end">10</text>
<line x1="1223.5" y1="1238.9" x2="1240.8" y2="1238.9" stroke="#000" stroke-width="3.9" stroke-linecap="butt"/>
<text transform="translate(1217.30 1250.68) scale(0.9615 1)" font-size="32.66" font-weight="bold" text-anchor="end">20</text>
<line x1="1223.5" y1="1138.7" x2="1240.8" y2="1138.7" stroke="#000" stroke-width="3.9" stroke-linecap="butt"/>
<text transform="translate(1217.30 1150.40) scale(0.9615 1)" font-size="32.66" font-weight="bold" text-anchor="end">30</text>
<line x1="1223.5" y1="1038.4" x2="1240.8" y2="1038.4" stroke="#000" stroke-width="3.9" stroke-linecap="butt"/>
<text transform="translate(1217.30 1050.12) scale(0.9615 1)" font-size="32.66" font-weight="bold" text-anchor="end">40</text>
<line x1="1290.7" y1="1439.5" x2="1290.7" y2="1456.9" stroke="#000" stroke-width="3.9" stroke-linecap="butt"/>
<line x1="1366.0" y1="1439.5" x2="1366.0" y2="1456.9" stroke="#000" stroke-width="3.9" stroke-linecap="butt"/>
<line x1="1441.1" y1="1439.5" x2="1441.1" y2="1456.9" stroke="#000" stroke-width="3.9" stroke-linecap="butt"/>
<line x1="1516.3" y1="1439.5" x2="1516.3" y2="1456.9" stroke="#000" stroke-width="3.9" stroke-linecap="butt"/>
<line x1="1591.7" y1="1439.5" x2="1591.7" y2="1456.9" stroke="#000" stroke-width="3.9" stroke-linecap="butt"/>
<line x1="1290.7" y1="1113.5" x2="1290.7" y2="1216.9" stroke="#000" stroke-width="3.9" stroke-linecap="butt"/>
<line x1="1290.7" y1="1247.5" x2="1290.7" y2="1276.3" stroke="#000" stroke-width="3.9" stroke-linecap="butt"/>
<line x1="1278.2" y1="1113.5" x2="1303.2" y2="1113.5" stroke="#000" stroke-width="3.9" stroke-linecap="round"/>
<line x1="1278.2" y1="1276.3" x2="1303.2" y2="1276.3" stroke="#000" stroke-width="3.9" stroke-linecap="round"/>
<rect x="1267.65" y="1217.85" width="46.10" height="28.70" fill="#65748F" stroke="#000" stroke-width="3.9"/>
<line x1="1266.7" y1="1239.1" x2="1314.7" y2="1239.1" stroke="#000" stroke-width="3.9" stroke-linecap="butt"/>
<line x1="1366.0" y1="1180.1" x2="1366.0" y2="1227.8" stroke="#000" stroke-width="3.9" stroke-linecap="butt"/>
<line x1="1366.0" y1="1270.2" x2="1366.0" y2="1335.6" stroke="#000" stroke-width="3.9" stroke-linecap="butt"/>
<line x1="1353.5" y1="1180.1" x2="1378.5" y2="1180.1" stroke="#000" stroke-width="3.9" stroke-linecap="round"/>
<line x1="1353.5" y1="1335.6" x2="1378.5" y2="1335.6" stroke="#000" stroke-width="3.9" stroke-linecap="round"/>
<rect x="1342.95" y="1228.75" width="46.10" height="40.50" fill="#AEBBA7" stroke="#000" stroke-width="3.9"/>
<line x1="1342.0" y1="1248.2" x2="1390.0" y2="1248.2" stroke="#000" stroke-width="3.9" stroke-linecap="butt"/>
<line x1="1441.1" y1="1111.6" x2="1441.1" y2="1227.3" stroke="#000" stroke-width="3.9" stroke-linecap="butt"/>
<line x1="1441.1" y1="1264.9" x2="1441.1" y2="1327.6" stroke="#000" stroke-width="3.9" stroke-linecap="butt"/>
<line x1="1428.5" y1="1111.6" x2="1453.6" y2="1111.6" stroke="#000" stroke-width="3.9" stroke-linecap="round"/>
<line x1="1428.5" y1="1327.6" x2="1453.6" y2="1327.6" stroke="#000" stroke-width="3.9" stroke-linecap="round"/>
<rect x="1418.05" y="1228.25" width="46.10" height="35.70" fill="#5B7566" stroke="#000" stroke-width="3.9"/>
<line x1="1417.1" y1="1245.3" x2="1465.1" y2="1245.3" stroke="#000" stroke-width="3.9" stroke-linecap="butt"/>
<line x1="1516.3" y1="1119.4" x2="1516.3" y2="1201.9" stroke="#000" stroke-width="3.9" stroke-linecap="butt"/>
<line x1="1516.3" y1="1242.7" x2="1516.3" y2="1267.7" stroke="#000" stroke-width="3.9" stroke-linecap="butt"/>
<line x1="1503.8" y1="1119.4" x2="1528.8" y2="1119.4" stroke="#000" stroke-width="3.9" stroke-linecap="round"/>
<line x1="1503.8" y1="1267.7" x2="1528.8" y2="1267.7" stroke="#000" stroke-width="3.9" stroke-linecap="round"/>
<rect x="1493.25" y="1202.85" width="46.10" height="38.90" fill="#E2C45B" stroke="#000" stroke-width="3.9"/>
<line x1="1492.3" y1="1217.5" x2="1540.3" y2="1217.5" stroke="#000" stroke-width="3.9" stroke-linecap="butt"/>
<line x1="1591.7" y1="1112.4" x2="1591.7" y2="1205.7" stroke="#000" stroke-width="3.9" stroke-linecap="butt"/>
<line x1="1591.7" y1="1265.1" x2="1591.7" y2="1341.8" stroke="#000" stroke-width="3.9" stroke-linecap="butt"/>
<line x1="1579.2" y1="1112.4" x2="1604.2" y2="1112.4" stroke="#000" stroke-width="3.9" stroke-linecap="round"/>
<line x1="1579.2" y1="1341.8" x2="1604.2" y2="1341.8" stroke="#000" stroke-width="3.9" stroke-linecap="round"/>
<rect x="1568.65" y="1206.65" width="46.10" height="57.50" fill="#A88C4A" stroke="#000" stroke-width="3.9"/>
<line x1="1567.7" y1="1226.3" x2="1615.7" y2="1226.3" stroke="#000" stroke-width="3.9" stroke-linecap="butt"/>
<text transform="translate(1297.90 1484.50) rotate(-45) scale(0.9615 1)" font-size="32.66" font-weight="bold" text-anchor="end">Chat GPT 4</text>
<text transform="translate(1373.20 1484.50) rotate(-45) scale(0.9615 1)" font-size="32.66" font-weight="bold" text-anchor="end">Claude 3 opus</text>
<text transform="translate(1448.30 1484.50) rotate(-45) scale(0.9615 1)" font-size="32.66" font-weight="bold" text-anchor="end">Gemini 1.5 Flash</text>
<text transform="translate(1523.50 1484.50) rotate(-45) scale(0.9615 1)" font-size="32.66" font-weight="bold" text-anchor="end">ERNIE 3.5</text>
<text transform="translate(1598.90 1484.50) rotate(-45) scale(0.9615 1)" font-size="32.66" font-weight="bold" text-anchor="end">iFly Healthcare</text>
<text transform="translate(1163.40 1238.50) rotate(-90) scale(0.9479 1)" font-size="40.41" font-weight="bold" text-anchor="middle">Readability 3</text>
<text transform="translate(1442.30 1703.90) scale(0.9615 1)" font-size="34.84" font-weight="bold" text-anchor="middle">Model</text>
</g>
<path d="M1365.9 1088.5 L1365.9 1014.1 L1516.9 1014.1 L1516.9 1036.0" fill="none" stroke="#000" stroke-width="3.9" stroke-linecap="round" stroke-linejoin="miter"/>
<path d="M1442.4 1088.5 L1442.4 1065.6 L1516.9 1065.6 L1516.9 1088.5" fill="none" stroke="#000" stroke-width="3.9" stroke-linecap="round" stroke-linejoin="miter"/>
<text transform="translate(1441.95 1008.73) scale(0.87 1)" font-family="DejaVu Sans, Liberation Sans, sans-serif" font-size="33" font-weight="bold" text-anchor="middle" letter-spacing="1.72" stroke="#000" stroke-width="0.8" stroke-linejoin="miter">***</text>
<text transform="translate(1480.75 1059.73) scale(0.87 1)" font-family="DejaVu Sans, Liberation Sans, sans-serif" font-size="33" font-weight="bold" text-anchor="middle" letter-spacing="1.72" stroke="#000" stroke-width="0.8" stroke-linejoin="miter">**</text>
</svg>
</body>
</html>
